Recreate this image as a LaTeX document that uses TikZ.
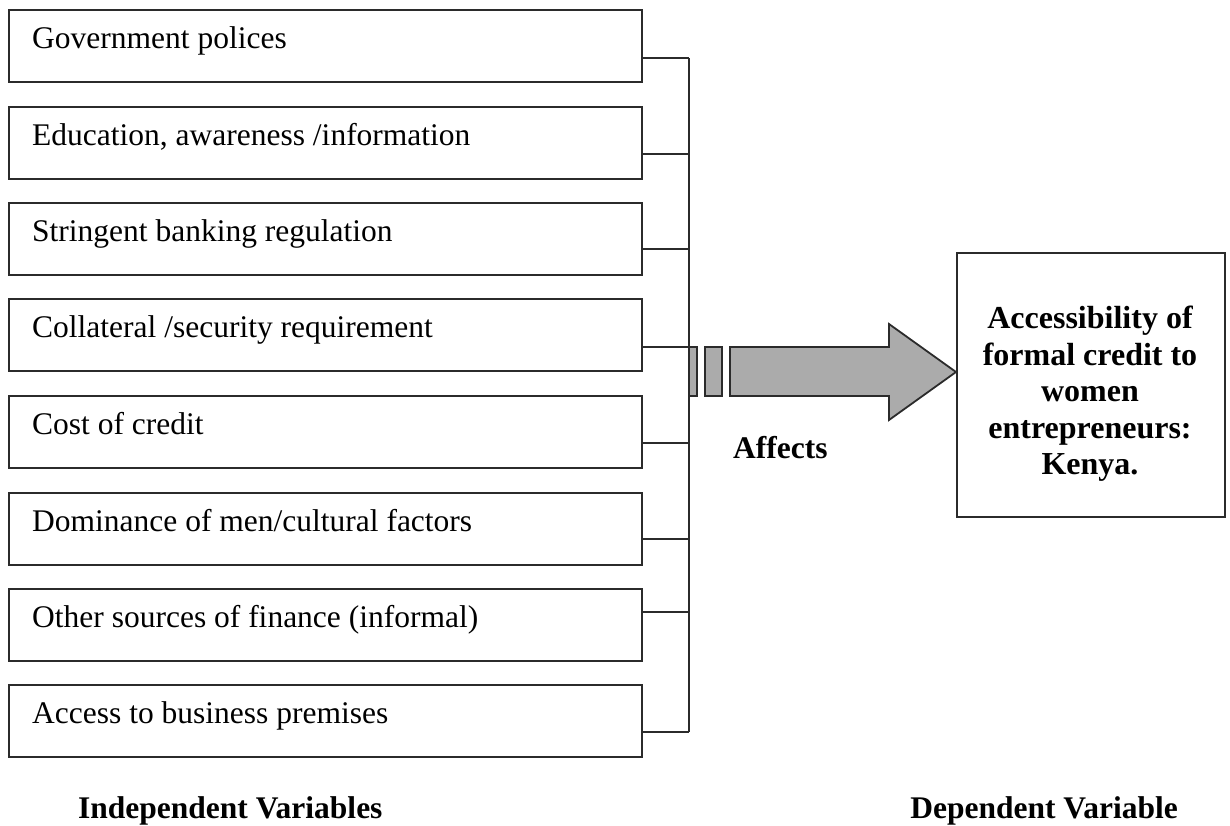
\documentclass[tikz,border=0pt]{standalone}
\usepackage{fontspec}
\setmainfont{Liberation Serif}
\definecolor{linegray}{HTML}{2B2B2B}
\definecolor{arrowfill}{HTML}{ABABAB}
\begin{document}
\begin{tikzpicture}[x=1pt,y=-1pt,
  varbox/.style={draw=linegray,line width=2.3pt,minimum width=633pt,minimum height=72pt,inner sep=0pt,anchor=north west},
  vartext/.style={anchor=base west,inner sep=0pt,font=\fontsize{31.5}{36}\selectfont},
  hdr/.style={inner sep=0pt,font=\fontsize{31.5}{36}\selectfont\bfseries},
  conn/.style={draw=linegray,line width=2.3pt},
  arr/.style={draw=linegray,line width=1.8pt,fill=arrowfill,line join=miter}]
\useasboundingbox (0,0) rectangle (1230,825);
% independent variable boxes
\foreach \i/\t/\c/\lab in {1/9/58/{Government polices},
  2/106/154/{Education, awareness /information},
  3/202/249/{Stringent banking regulation},
  4/298/347/{Collateral /security requirement},
  5/395/443/{Cost of credit},
  6/492/539/{Dominance of men/cultural factors},
  7/588/612/{Other sources of finance (informal)},
  8/684/732/{Access to business premises}}{
  \node[varbox] (b\i) at (8,\t) {};
  \node[vartext] (t\i) at (32,\t+39) {\lab};
  \coordinate (c\i) at (641,\c);
  \coordinate (s\i) at (689,\c);
  \draw[conn] (c\i) -- (s\i);
}
\draw[conn] (s1) -- (s8);
% dependent variable box
\node[draw=linegray,line width=2.3pt,minimum width=268pt,minimum height=264pt,inner sep=0pt,anchor=north west] (dep) at (956,252) {};
\node[inner sep=0pt,align=center,font=\fontsize{32}{36.5}\selectfont\bfseries] (deptext) at (1090,394)
  {Accessibility of\\formal credit to\\women\\entrepreneurs:\\Kenya.};
% arrow
\coordinate (tip) at (dep.west |- 0,372);
\draw[arr] (s4) rectangle (697,396);
\draw[arr] (705,347) rectangle (722,396);
\draw[arr] (730,347) -- (889,347) -- (889,324) -- (tip) -- (889,420) -- (889,396) -- (730,396) -- cycle;
% labels
\node[hdr,anchor=base west] (affects) at (733,458) {Affects};
\node[hdr,anchor=base west] (indep) at (78,818) {Independent Variables};
\node[hdr,anchor=base east] (depv) at (1178,818) {Dependent Variable};
\end{tikzpicture}
\end{document}
